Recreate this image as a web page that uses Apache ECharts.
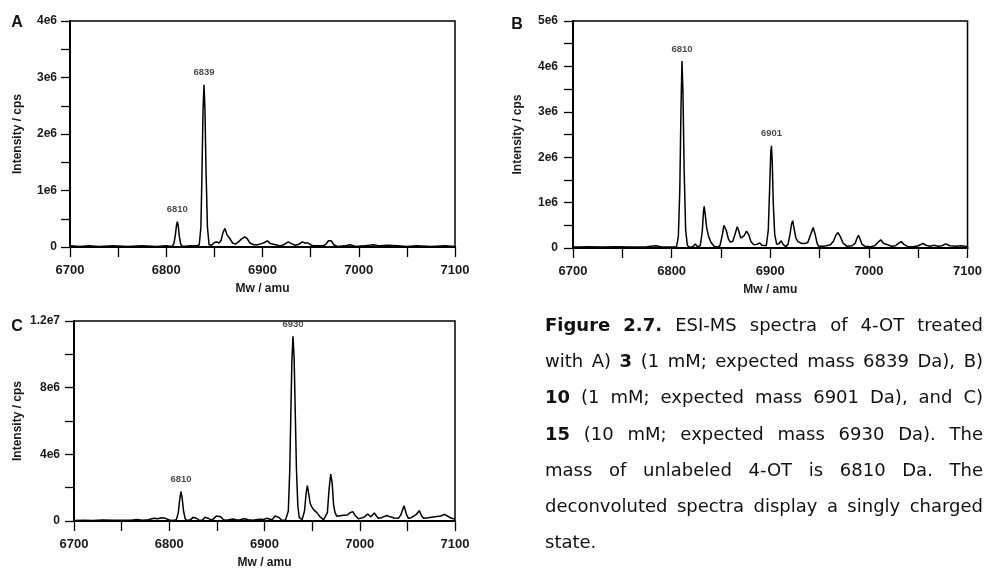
<!DOCTYPE html>
<html><head><meta charset="utf-8">
<script src="https://cdn.jsdelivr.net/npm/echarts@6/dist/echarts.min.js"></script>
<style>html,body{margin:0;padding:0;background:#fff}#c{width:985px;height:570px}</style>
</head><body><div id="c"></div><script>
// ---------- DATA (intensity in units of 1e6 cps) ----------
const xTicks = [6700, 6800, 6900, 7000, 7100];

const massA = [6700,6710,6720,6730,6745,6760,6775,6790,6800,6806,6808,6809.5,6810.8,6811.5,6812.3,6813.5,6815,6817,6825,6832,6834.3,6836,6837,6838.2,6839.2,6840.2,6841.4,6842.8,6844.5,6847,6850,6852.5,6855,6857,6859,6861,6863,6866,6869,6872,6875,6878,6881.5,6884,6887,6891,6895,6899,6902,6905,6908,6911,6914,6918,6922,6926.8,6930,6934,6938,6941.4,6944,6947.5,6950,6953,6958,6963,6966,6968.5,6970,6971.5,6974,6978,6985,6991,6997,7005,7015,7022,7030,7040,7050,7060,7075,7090,7100];
const intA  = [0.02,0.01,0.02,0.01,0.02,0.01,0.02,0.01,0.02,0.01,0.06,0.22,0.40,0.45,0.40,0.20,0.05,0.01,0.02,0.02,0.04,0.35,1.2,2.4,2.87,2.45,1.3,0.35,0.04,0.03,0.08,0.09,0.07,0.12,0.26,0.33,0.22,0.15,0.07,0.05,0.09,0.14,0.18,0.15,0.07,0.04,0.04,0.06,0.08,0.11,0.06,0.05,0.04,0.02,0.04,0.09,0.06,0.03,0.05,0.09,0.07,0.07,0.04,0.02,0.02,0.02,0.05,0.11,0.14,0.11,0.04,0.01,0.02,0.04,0.01,0.02,0.04,0.02,0.03,0.02,0.01,0.02,0.01,0.02,0.01];
const peaksA = [[6811.5,0.45,'6810'],[6839.2,2.87,'6839']];

const massB = [6700,6702,6705,6715,6730,6745,6760,6775,6784,6790,6800,6805,6806.8,6808.3,6809.5,6810.5,6811.5,6812.7,6814.2,6816,6819,6822,6824,6826,6829,6831,6832.3,6833,6834,6835.5,6837.5,6840,6843,6846,6849,6851.5,6853,6854,6855.5,6857.5,6859.5,6862,6864.5,6866.5,6868,6870,6871.7,6873.5,6876,6878,6880.5,6883.4,6886,6889.4,6891.5,6893.5,6896,6898,6899.5,6900.5,6901.2,6902,6903,6904.5,6906.5,6909,6911,6913,6915.8,6918,6920,6921.5,6922.7,6924,6926,6928,6932,6935,6938,6941,6943.5,6945.5,6947.5,6949,6953,6957,6961,6964,6966.5,6968.7,6971,6974,6977.5,6983,6986,6988,6989.5,6991,6993,6996,7002,7006,7009,7012,7015,7019,7023,7027,7030,7032.8,7035.5,7039.5,7045,7050,7054.7,7058,7062,7066,7070,7074,7078,7082,7088,7094,7100];
const intB  = [0.02,0.06,0.02,0.03,0.02,0.03,0.02,0.03,0.05,0.02,0.02,0.03,0.25,1.3,3.1,4.12,3.4,1.7,0.4,0.05,0.01,0.04,0.09,0.03,0.05,0.35,0.8,0.92,0.75,0.45,0.25,0.12,0.04,0.02,0.05,0.3,0.5,0.53,0.38,0.2,0.13,0.15,0.32,0.47,0.38,0.22,0.19,0.27,0.37,0.3,0.14,0.07,0.08,0.11,0.06,0.03,0.05,0.4,1.4,2.1,2.25,1.9,1.0,0.3,0.08,0.1,0.16,0.08,0.03,0.08,0.3,0.52,0.6,0.45,0.22,0.14,0.1,0.1,0.12,0.3,0.45,0.3,0.1,0.04,0.04,0.05,0.07,0.15,0.28,0.34,0.25,0.1,0.04,0.05,0.1,0.22,0.28,0.2,0.08,0.04,0.03,0.05,0.12,0.18,0.1,0.07,0.04,0.05,0.1,0.14,0.08,0.03,0.03,0.05,0.1,0.06,0.04,0.06,0.04,0.05,0.09,0.05,0.04,0.05,0.03];
const peaksB = [[6810.5,4.12,'6810'],[6901.2,2.25,'6901']];

const massC = [6700,6710,6720,6730,6740,6750,6760,6766,6772,6778,6784,6788,6792,6796,6800,6804,6807.5,6809.5,6811,6812.3,6813.5,6815,6816.8,6819,6822,6825,6826.7,6829,6832,6835,6837.5,6839.3,6841.5,6844,6847,6849.5,6851.2,6854,6857,6860,6864,6867,6871,6874,6879,6883,6888,6891,6895,6899,6902,6905,6908,6911,6912.8,6915,6918,6922,6925,6926.5,6927.5,6928.7,6929.9,6931.1,6932.3,6933.5,6935,6936.5,6939.5,6942,6943.8,6945,6946.2,6948,6949.5,6952,6955,6958,6960,6962,6964,6966,6967.8,6969.5,6971,6972.5,6974,6976,6978,6981,6984,6987,6990,6992.6,6995,6998.5,7002,7005,7008.3,7011.7,7015.3,7017.5,7019.5,7023,7028.3,7032,7036,7040.5,7043,7046.5,7049,7051,7054,7056,7059.5,7062.5,7065,7067,7072,7079,7085,7088.8,7092,7096.5,7100];
const intC  = [0.03,0.05,0.03,0.06,0.04,0.05,0.04,0.09,0.05,0.08,0.17,0.13,0.19,0.16,0.06,0.03,0.08,0.5,1.3,1.76,1.4,0.6,0.12,0.03,0.07,0.22,0.26,0.15,0.03,0.06,0.22,0.3,0.15,0.05,0.15,0.3,0.34,0.25,0.08,0.04,0.09,0.12,0.06,0.07,0.14,0.08,0.04,0.08,0.1,0.09,0.16,0.12,0.07,0.3,0.36,0.22,0.05,0.04,0.6,3.0,6.0,9.5,11.09,9.8,6.5,3.2,0.9,0.2,0.08,0.6,1.7,2.12,1.7,1.05,0.86,0.65,0.5,0.27,0.16,0.07,0.1,0.5,1.9,2.82,2.3,1.0,0.5,0.28,0.24,0.33,0.35,0.36,0.5,0.56,0.35,0.14,0.18,0.25,0.42,0.25,0.48,0.3,0.16,0.2,0.33,0.25,0.18,0.16,0.35,0.92,0.4,0.16,0.2,0.24,0.4,0.62,0.3,0.16,0.2,0.26,0.3,0.4,0.3,0.16,0.12];
const peaksC = [[6812.3,1.76,'6810'],[6929.9,11.09,'6930']];

const panelLetters = ['A','B','C'];
const xName = 'Mw / amu';
const yName = 'Intensity / cps';

const captionLines = [
  '**Figure** **2.7.** ESI-MS spectra of 4-OT treated',
  'with A) **3** (1 mM; expected mass 6839 Da), B)',
  '**10** (1 mM; expected mass 6901 Da), and C)',
  '**15** (10 mM; expected mass 6930 Da). The',
  'mass of unlabeled 4-OT is 6810 Da. The',
  'deconvoluted spectra display a singly charged',
  'state.'
];

// ---------- LAYOUT ----------
const AX = '"Liberation Sans", Arial, sans-serif';
const TXT = '#1a1a1a';
const grids = [
  {left:70, top:21, width:385, height:226},
  {left:573, top:21, width:397, height:227},
  {left:74, top:321, width:381, height:200}
];
const yMax = [4, 5, 12], yInt = [0.5, 0.5, 2], yLab = [1, 1, 4];
const yLabMargin = [13, 15, 14], yNameGap = [46, 49, 50];

function yFmt(step){
  return v => {
    const k = Math.round(v / step);
    if (Math.abs(v - k*step) > 1e-9) return '';
    if (v === 0) return '0';
    if (v >= 10) return (v/10) + 'e7';
    return v + 'e6';
  };
}

const xAxis = [], yAxis = [], series = [];
for (let g = 0; g < 3; g++) {
  xAxis.push({
    type:'value', gridIndex:g, min:6700, max:7100, interval:50,
    axisLine:{show:true, onZero:false, lineStyle:{color:'#000', width:2}},
    axisTick:{show:true, length:10, lineStyle:{color:'#000', width:1.3}},
    axisLabel:{margin:17, fontSize:13, fontWeight:'bold', fontFamily:AX, color:TXT,
      formatter: v => xTicks.indexOf(v) >= 0 ? String(v) : ''},
    splitLine:{show:false},
    name:xName, nameLocation:'middle', nameGap:36,
    nameTextStyle:{fontSize:12, fontWeight:'bold', fontFamily:AX, color:TXT}
  });
  yAxis.push({
    type:'value', gridIndex:g, min:0, max:yMax[g], interval:yInt[g],
    axisLine:{show:true, onZero:false, lineStyle:{color:'#000', width:2}},
    axisTick:{show:true, length:9, lineStyle:{color:'#000', width:1.3}},
    axisLabel:{margin:yLabMargin[g], fontSize:12, fontWeight:'bold', fontFamily:AX, color:TXT,
      formatter: yFmt(yLab[g])},
    splitLine:{show:false},
    name:yName, nameLocation:'middle', nameGap:yNameGap[g],
    nameTextStyle:{fontSize:12, fontWeight:'bold', fontFamily:AX, color:TXT}
  });
}
const specs = [[massA,intA,peaksA],[massB,intB,peaksB],[massC,intC,peaksC]];
specs.forEach((s, g) => {
  series.push({
    type:'line', xAxisIndex:g, yAxisIndex:g, showSymbol:false, symbol:'none',
    lineStyle:{color:'#000', width:1.5}, animation:false, silent:true,
    data: s[0].map((m,i) => [m, s[1][i]])
  });
  series.push({
    type:'scatter', xAxisIndex:g, yAxisIndex:g, symbolSize:0, animation:false, silent:true,
    data: s[2].map(p => [p[0], p[1], p[2]]),
    label:{show:true, position:'top', distance:7, formatter: p => p.value[2],
      fontSize:9.5, fontWeight:'bold', fontFamily:AX, color:TXT}
  });
});

// ---------- caption (justified) ----------
const FS = 18, CF = '"DejaVu Sans", Verdana, sans-serif';
const X0 = 545, X1 = 983, Y0 = 326, LH = 36.3;
const mctx = document.createElement('canvas').getContext('2d');
function tw(t, b){ mctx.font = (b?'bold ':'') + FS + 'px ' + CF; return mctx.measureText(t).width; }
const graphic = [];
captionLines.forEach((line, li) => {
  const toks = line.split(' ').map(t => {
    const b = /^\*\*.*\*\*$/.test(t);
    return {t: b ? t.slice(2,-2) : t, b};
  });
  const ws = toks.map(k => tw(k.t, k.b));
  const tot = ws.reduce((a,b)=>a+b,0);
  const last = li === captionLines.length - 1;
  const gap = last ? tw(' ', false) : (X1 - X0 - tot) / (toks.length - 1);
  let x = X0;
  toks.forEach((k, i) => {
    graphic.push({type:'text', x:x, y:Y0 + li*LH, silent:true,
      style:{text:k.t, fontSize:FS, fontFamily:CF, fontWeight:k.b?'bold':'normal',
        fill:'#111', verticalAlign:'middle', align:'left'}});
    x += ws[i] + gap;
  });
});
// panel letters
[[17,23],[517,25],[17,327]].forEach((p,i) => {
  graphic.push({type:'text', x:p[0], y:p[1], silent:true,
    style:{text:panelLetters[i], fontSize:16, fontWeight:'bold', fontFamily:AX, fill:'#111',
      align:'center', verticalAlign:'middle'}});
});

const chart = echarts.init(document.getElementById('c'), null, {renderer:'canvas'});
chart.setOption({
  animation:false,
  backgroundColor:'#fff',
  grid: grids.map(g => Object.assign({show:true, borderColor:'#000', borderWidth:1.5, backgroundColor:'transparent'}, g)),
  xAxis, yAxis, series, graphic
});
</script></body></html>
